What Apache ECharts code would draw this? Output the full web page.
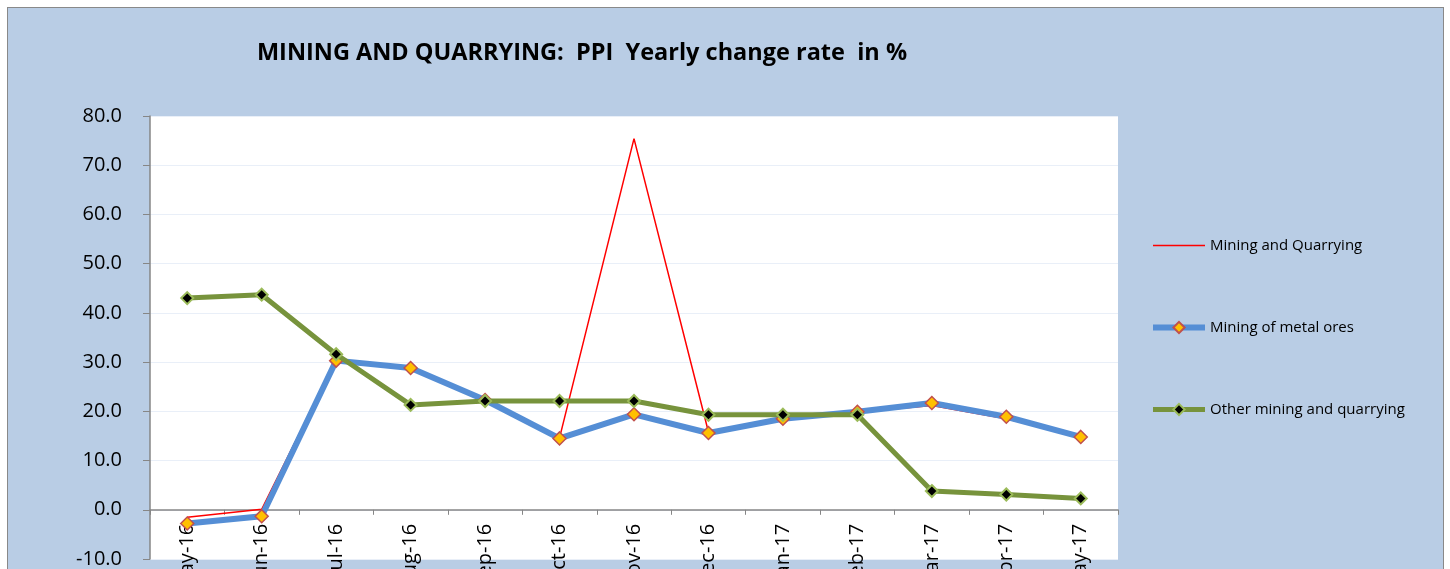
<!DOCTYPE html>
<html>
<head>
<meta charset="utf-8">
<title>Mining and quarrying PPI</title>
<script src="https://cdn.jsdelivr.net/npm/echarts@6/dist/echarts.min.js"></script>
<style>
  html, body { margin: 0; padding: 0; background: #fff; overflow: hidden; }
  #frame {
    position: absolute; left: 7px; top: 7px; width: 1435px; height: 640px;
    background: #B9CDE5; border: 1px solid #898989;
  }
  #chart { position: absolute; left: 0; top: 0; width: 1450px; height: 630px; }
</style>
</head>
<body>
<div id="frame"></div>
<div id="chart"></div>
<script>
/* PPI 年度变化率 - 采矿与采石 */

const months = ['May-16', 'Jun-16', 'Jul-16', 'Aug-16', 'Sep-16', 'Oct-16', 'Nov-16',
  'Dec-16', 'Jan-17', 'Feb-17', 'Mar-17', 'Apr-17', 'May-17'];

const miningQuarrying = [-1.5, 0.1, 30.5, 28.8, 22.4, 14.6, 75.4, 15.8, 18.5, 19.8, 21.2, 18.5, 14.9];
const metalOres = [-2.8, -1.3, 30.3, 28.8, 22.3, 14.5, 19.4, 15.6, 18.5, 19.9, 21.7, 18.9, 14.8];
const otherMining = [43.0, 43.7, 31.6, 21.3, 22.1, 22.1, 22.1, 19.3, 19.3, 19.3, 3.8, 3.1, 2.3];

const FONT = '"Open Sans", "Noto Sans", sans-serif';

const chart = echarts.init(document.getElementById('chart'));

// 画布比窗口高，底部标签被截断（与原图一致）
// x 轴放在 0 值处：用负 offset 把底部轴上移 10 个单位
chart.setOption({
  backgroundColor: 'transparent',
  animation: false,
  title: {
    text: 'MINING AND QUARRYING:  PPI  Yearly change rate  in %',
    left: 577,
    top: 36,
    textAlign: 'center',
    textStyle: { fontFamily: FONT, fontSize: 23.5, fontWeight: 'bold', color: '#000' }
  },
  legend: {
    orient: 'vertical',
    left: 1145,
    top: 233,
    itemGap: 67,
    itemWidth: 52,
    itemHeight: 14,
    textStyle: { fontFamily: FONT, fontSize: 15, color: '#000' },
    data: [
      { name: 'Mining and Quarrying', itemStyle: { opacity: 0 }, lineStyle: { width: 1.5 } },
      { name: 'Mining of metal ores', lineStyle: { width: 6 } },
      { name: 'Other mining and quarrying', lineStyle: { width: 5 } }
    ]
  },
  grid: {
    left: 150,
    right: 332,
    top: 116,
    bottom: 71,
    containLabel: false,
    outerBoundsMode: 'none',
    show: true,
    backgroundColor: '#fff',
    borderWidth: 0
  },
  xAxis: {
    type: 'category',
    data: months,
    boundaryGap: true,
    position: 'bottom',
    offset: -49.2,
    axisLine: { onZero: false, lineStyle: { color: '#868686', width: 1.5 } },
    axisTick: { show: true, length: 5, lineStyle: { color: '#868686' } },
    axisLabel: { rotate: 90, margin: 14, interval: 0, fontFamily: FONT, fontSize: 20, color: '#000' },
    splitLine: { show: false }
  },
  yAxis: {
    type: 'value',
    min: -10,
    max: 80,
    interval: 10,
    axisLine: { show: true, lineStyle: { color: '#868686', width: 1.5 } },
    axisTick: { show: true, length: 7, lineStyle: { color: '#868686' } },
    axisLabel: {
      margin: 28,
      fontFamily: FONT, fontSize: 20, color: '#000',
      formatter: v => v.toFixed(1)
    },
    splitLine: { lineStyle: { color: '#E9EFF8', width: 1 } }
  },
  series: [
    {
      name: 'Mining and Quarrying',
      type: 'line',
      data: miningQuarrying,
      symbol: 'none',
      z: 2,
      lineStyle: { color: '#FF0000', width: 1.5 },
      itemStyle: { color: '#FF0000' }
    },
    {
      name: 'Mining of metal ores',
      type: 'line',
      data: metalOres,
      symbol: 'diamond',
      symbolSize: 13,
      z: 3,
      lineStyle: { color: '#558ED5', width: 6 },
      itemStyle: { color: '#FFC000', borderColor: '#C0504D', borderWidth: 1.5 }
    },
    {
      name: 'Other mining and quarrying',
      type: 'line',
      data: otherMining,
      symbol: 'diamond',
      symbolSize: 12,
      z: 4,
      lineStyle: { color: '#77933C', width: 5 },
      itemStyle: { color: '#000', borderColor: '#9BBB59', borderWidth: 2 }
    }
  ]
});

window.addEventListener('resize', () => chart.resize());
</script>
</body>
</html>
